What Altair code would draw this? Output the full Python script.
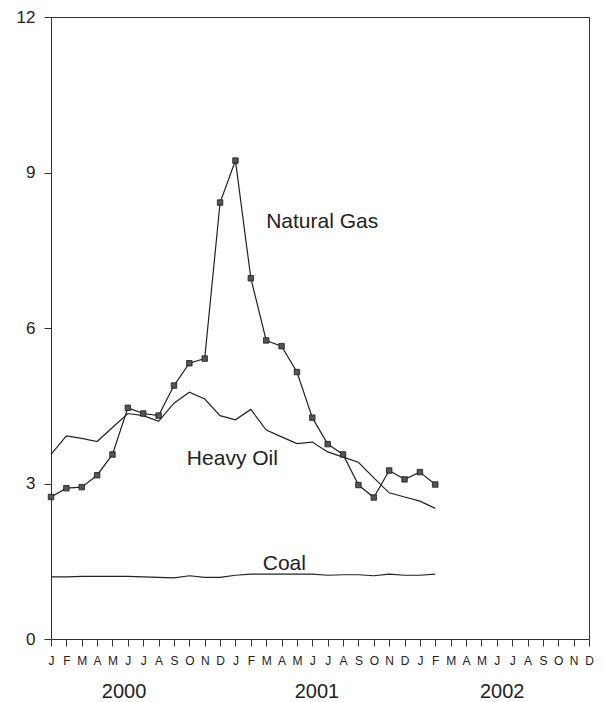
import altair as alt
import pandas as pd

# ---- data ----
month_letters = ["J", "F", "M", "A", "M", "J", "J", "A", "S", "O", "N", "D"]
months = list(range(26))  # Jan 2000 .. Feb 2002
natural_gas = [2.74, 2.91, 2.93, 3.16, 3.56, 4.46, 4.35, 4.31, 4.89, 5.32, 5.41, 8.42,
               9.23, 6.96, 5.76, 5.65, 5.15, 4.27, 3.76, 3.56, 2.97, 2.73, 3.25, 3.08,
               3.22, 2.98]
heavy_oil = [3.56, 3.92, 3.87, 3.81, 4.08, 4.35, 4.31, 4.20, 4.55, 4.76, 4.63, 4.31,
             4.23, 4.43, 4.03, 3.90, 3.77, 3.80, 3.61, 3.51, 3.41, 3.11, 2.82, 2.74,
             2.66, 2.52]
coal = [1.20, 1.20, 1.21, 1.21, 1.21, 1.21, 1.20, 1.19, 1.18, 1.22, 1.19, 1.19,
        1.23, 1.25, 1.25, 1.25, 1.25, 1.25, 1.23, 1.24, 1.24, 1.22, 1.25, 1.23,
        1.23, 1.25]
years = ["2000", "2001", "2002"]
year_label_pos = [4.75, 17.3, 29.35]
series_labels = ["Natural Gas", "Heavy Oil", "Coal"]
series_label_x = [17.64, 11.8, 15.18]
series_label_y = [7.92, 3.35, 1.34]
y_ticks = [0, 3, 6, 9, 12]
x_ticks = list(range(36))

FONT = "Liberation Sans"
INK = "#222222"

df = pd.DataFrame({
    "m": months * 3,
    "v": natural_gas + heavy_oil + coal,
    "s": ["Natural Gas"] * 26 + ["Heavy Oil"] * 26 + ["Coal"] * 26,
})
df_gas = pd.DataFrame({"m": months, "v": natural_gas})
df_years = pd.DataFrame({"pos": year_label_pos, "label": years})
df_lab = pd.DataFrame({"x": series_label_x, "y": series_label_y, "t": series_labels})

label_expr = "[" + ",".join("'%s'" % m for m in month_letters) + "][datum.value % 12]"

x_scale = alt.Scale(domain=[0, 35], nice=False, zero=False)
y_scale = alt.Scale(domain=[0, 12], nice=False)

x_axis = alt.Axis(values=x_ticks, labelExpr=label_expr, title=None,
                  labelFlush=False, labelOverlap=False, grid=False,
                  labelFontSize=12, labelPadding=9)
y_axis = alt.Axis(values=y_ticks, title=None, labelFlush=False, labelOverlap=False,
                  grid=False, labelFontSize=17, labelPadding=9)

lines = alt.Chart(df).mark_line(color=INK, strokeWidth=1.2).encode(
    x=alt.X("m:Q", scale=x_scale, axis=x_axis),
    y=alt.Y("v:Q", scale=y_scale, axis=y_axis),
    detail="s:N",
)

points = alt.Chart(df_gas).mark_point(shape="square", size=30, filled=True,
                                      fill="#555555", stroke="#1a1a1a",
                                      strokeWidth=0.8, opacity=1).encode(
    x=alt.X("m:Q", scale=x_scale, axis=x_axis),
    y=alt.Y("v:Q", scale=y_scale, axis=y_axis),
)

labels = alt.Chart(df_lab).mark_text(font=FONT, fontSize=21, color=INK,
                                     align="center", baseline="alphabetic").encode(
    x=alt.X("x:Q", scale=x_scale, axis=x_axis),
    y=alt.Y("y:Q", scale=y_scale, axis=y_axis),
    text="t:N",
)

year_text = alt.Chart(df_years).mark_text(font=FONT, fontSize=20, color=INK,
                                          align="center", baseline="alphabetic").encode(
    x=alt.X("pos:Q", scale=x_scale, axis=x_axis),
    y=alt.value(681),
    text="label:N",
)

chart = alt.layer(lines, points, labels, year_text).properties(
    width=538, height=622,
    autosize=alt.AutoSizeParams(type="none"),
    padding={"left": 43, "top": 9, "right": 6, "bottom": 62},
).configure_view(
    stroke="#333", strokeWidth=1
).configure_axis(
    labelOverlap=False, labelFlush=False, tickSize=7, tickColor="#333",
    domainColor="#333", labelFont=FONT, labelColor=INK, grid=False
)

chart.save("out.html", embed_options={"renderer": "svg", "actions": False})
